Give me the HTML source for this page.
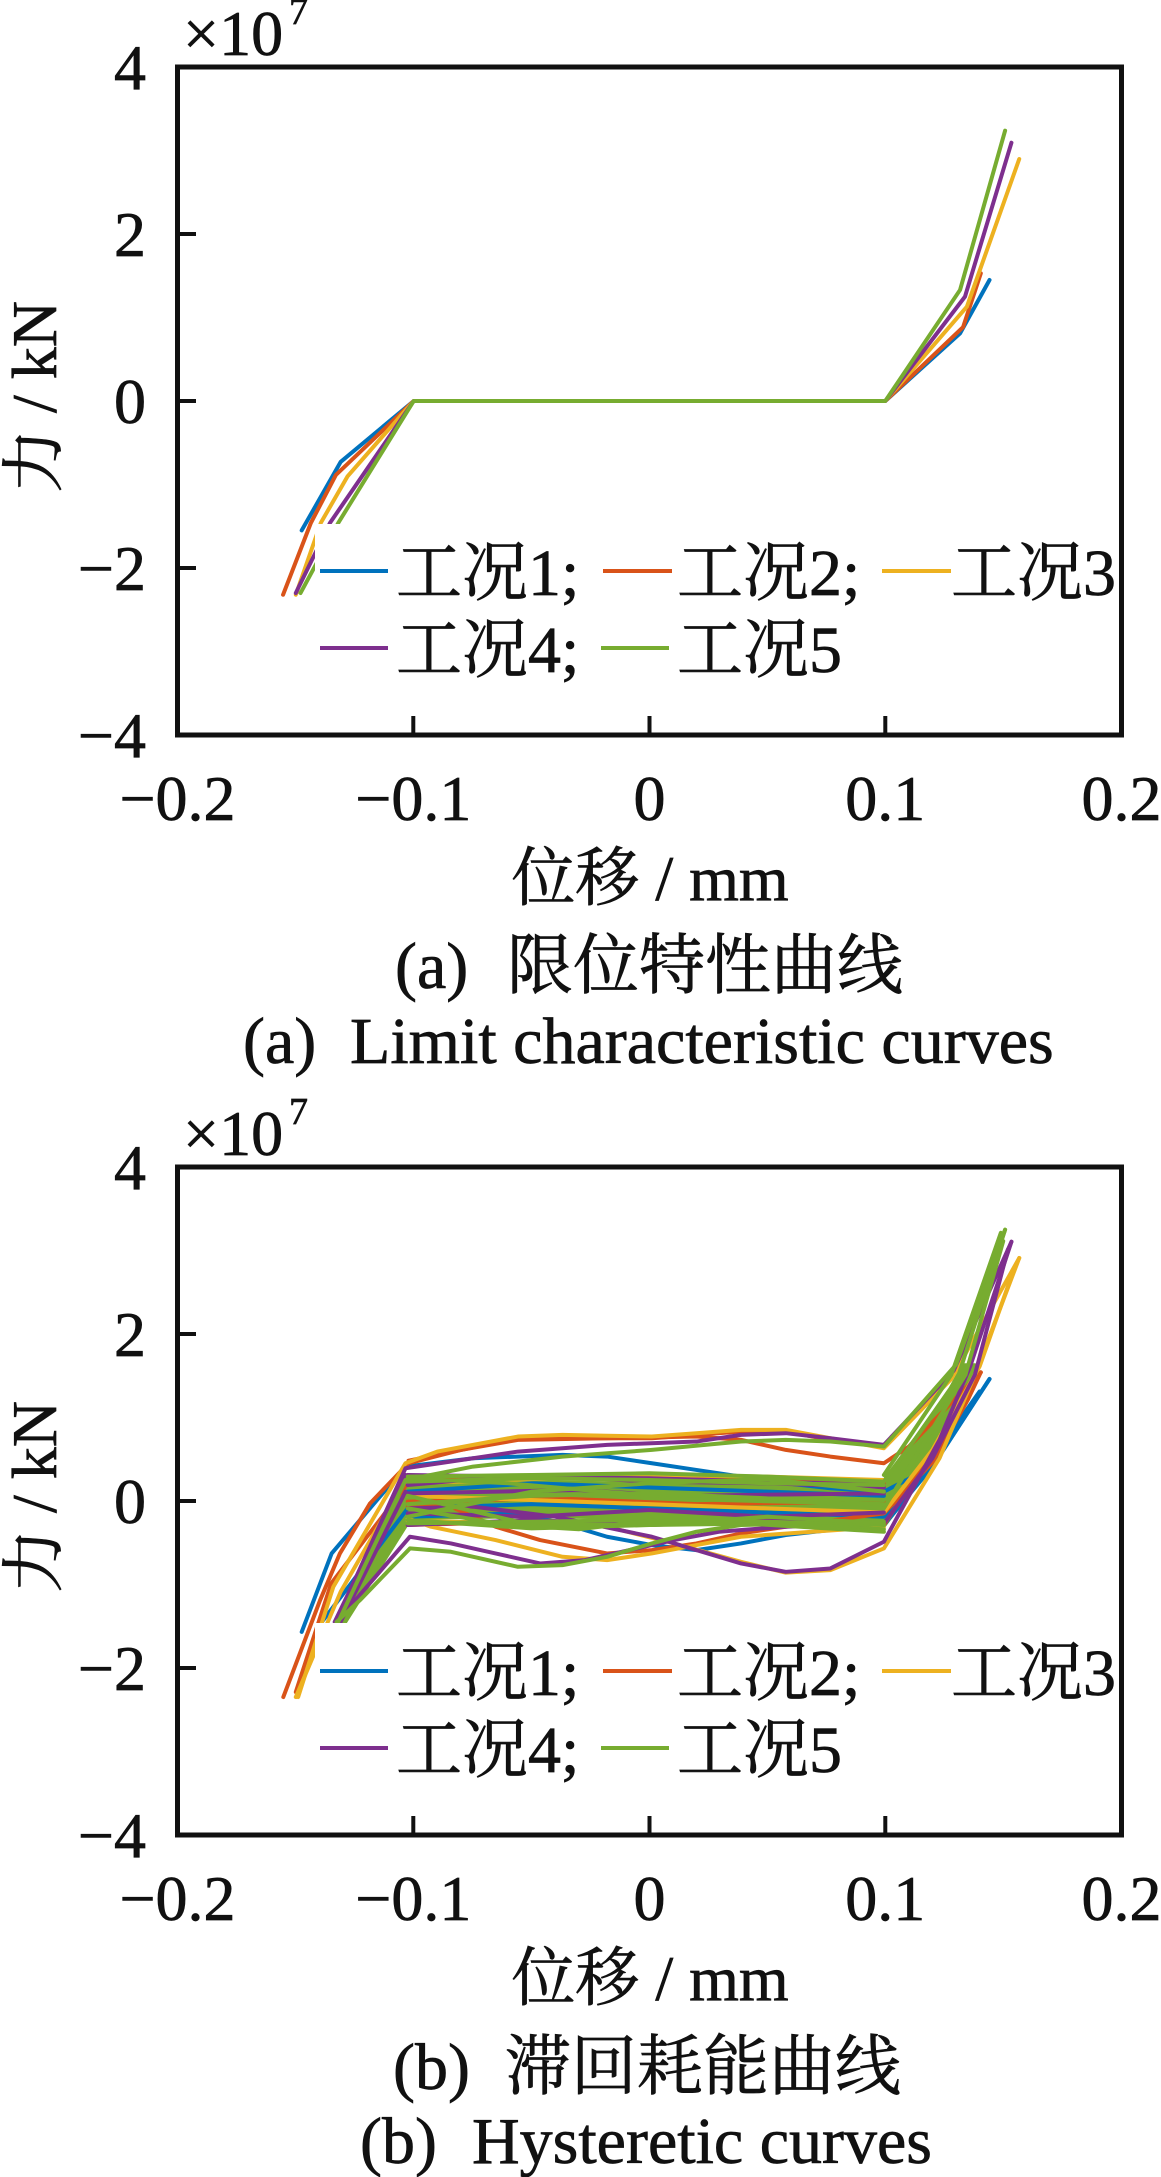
<!DOCTYPE html>
<html>
<head>
<meta charset="utf-8">
<style>
html,body{margin:0;padding:0;background:#fff;}
svg{display:block;}
text{font-family:"Liberation Serif","Noto Serif CJK SC",serif;fill:#111;stroke:#111;stroke-width:0.7;}
.c path{vector-effect:non-scaling-stroke;fill:none;stroke-width:4;stroke-linejoin:round;stroke-linecap:round;}
.c path.f{stroke-width:3;}
.b{stroke:#0072BD;} .o{stroke:#D95319;} .y{stroke:#EDB120;} .p{stroke:#7E2F8E;} .g{stroke:#77AC30;}
path.f{fill:#77AC30 !important;stroke:#77AC30;}
.ax{stroke:#111;stroke-width:5;fill:none;}
.tk{stroke:#111;stroke-width:4;}
.lg{stroke-width:4;}
</style>
</head>
<body>
<svg width="1161" height="2177" viewBox="0 0 1161 2177" xmlns="http://www.w3.org/2000/svg">
<rect x="0" y="0" width="1161" height="2177" fill="#fff"/>

<!-- ================= PLOT 1 ================= -->
<g class="c" transform="translate(649.5 401) scale(2358 -83.5)">
  <path class="b" d="M-0.1475,-1.55 L-0.131,-0.73 L-0.1,0 L0.1,0 L0.1317,0.81 L0.1442,1.449"/>
  <path class="o" d="M-0.1554,-2.32 L-0.1436,-1.46 L-0.133,-0.886 L-0.1,0 L0.1,0 L0.133,0.886 L0.1405,1.529"/>
  <path class="y" d="M-0.15,-2.32 L-0.1394,-1.46 L-0.128,-0.9 L-0.1,0 L0.1,0 L0.1346,1.13 L0.1568,2.898"/>
  <path class="p" d="M-0.15,-2.3 L-0.1355,-1.46 L-0.1,0 L0.1,0 L0.1338,1.25 L0.1535,3.093"/>
  <path class="g" d="M-0.148,-2.3 L-0.132,-1.46 L-0.1,0 L0.1,0 L0.1317,1.33 L0.1508,3.237"/>
</g>

<!-- legend 1 -->
<rect x="315" y="524" width="803" height="170" fill="#fff"/>
<line class="lg" x1="320" y1="571" x2="388" y2="571" stroke="#0072BD"/>
<text x="396" y="595" font-size="66">工况1;</text>
<line class="lg" x1="603" y1="571" x2="672" y2="571" stroke="#D95319"/>
<text x="677" y="595" font-size="66">工况2;</text>
<line class="lg" x1="882" y1="571" x2="951" y2="571" stroke="#EDB120"/>
<text x="951" y="595" font-size="66">工况3</text>
<line class="lg" x1="320" y1="648" x2="388" y2="648" stroke="#7E2F8E"/>
<text x="396" y="672" font-size="66">工况4;</text>
<line class="lg" x1="601" y1="648" x2="669" y2="648" stroke="#77AC30"/>
<text x="677" y="672" font-size="66">工况5</text>

<!-- axes 1 -->
<rect class="ax" x="177.5" y="67" width="944" height="668"/>
<line class="tk" x1="177.5" y1="234" x2="196" y2="234"/>
<line class="tk" x1="177.5" y1="401" x2="196" y2="401"/>
<line class="tk" x1="177.5" y1="568" x2="196" y2="568"/>
<line class="tk" x1="413.3" y1="735" x2="413.3" y2="716"/>
<line class="tk" x1="649.5" y1="735" x2="649.5" y2="716"/>
<line class="tk" x1="885.3" y1="735" x2="885.3" y2="716"/>

<g font-size="64" text-anchor="end">
  <text x="146" y="89">4</text>
  <text x="146" y="256">2</text>
  <text x="146" y="423">0</text>
  <text x="146" y="590">−2</text>
  <text x="146" y="757">−4</text>
</g>
<g font-size="64" text-anchor="middle">
  <text x="177.5" y="820">−0.2</text>
  <text x="413.3" y="820">−0.1</text>
  <text x="649.5" y="820">0</text>
  <text x="885.3" y="820">0.1</text>
  <text x="1121.5" y="820">0.2</text>
</g>
<text x="183" y="55" font-size="64">×10</text>
<text x="289" y="24" font-size="38">7</text>
<text transform="translate(56 397) rotate(-90)" text-anchor="middle" font-size="64">力 / kN</text>
<text x="650" y="900" text-anchor="middle" font-size="64">位移 / mm</text>
<text x="395" y="988" font-size="66">(a)</text>
<text x="507" y="988" font-size="66">限位特性曲线</text>
<text x="243" y="1063" font-size="66">(a)</text>
<text x="350" y="1063" font-size="66">Limit characteristic curves</text>

<!-- ================= PLOT 2 ================= -->
<g class="c" transform="translate(649.5 1500) scale(2358 -83.5)">
  <!-- green filled regions -->
  <path class="f" d="M-0.1035,0.28 L-0.1327,-1.47 L-0.129,-1.47 L-0.1025,-0.28 Z"/>
  <path class="f" d="M-0.1025,0.2 L-0.05,0.22 L0,0.2 L0.05,0.17 L0.0994,0.16 L0.0994,-0.24 L0.05,-0.22 L0,-0.22 L-0.05,-0.2 L-0.1025,-0.22 Z"/>
  <path class="f" d="M0.0994,0.24 L0.1126,0.74 L0.1275,1.34 L0.133,1.62 L0.138,1.62 L0.137,1.32 L0.1245,0.72 L0.1135,0.2 L0.0994,-0.32 Z"/>

  <!-- blue -->
  <path class="b" d="M-0.1475,-1.58 L-0.1348,-0.64 L-0.1035,0.4 L-0.0748,0.5 L-0.0369,0.54 L-0.018,0.52 L0.001,0.44 L0.0199,0.36 L0.0388,0.28 L0.0578,0.2 L0.0767,0.14 L0.0994,0.1 L0.12,0.4 L0.1442,1.449"/>
  <path class="b" d="M-0.1025,0.1 L-0.05,0.2 L0,0.15 L0.05,0.1 L0.0994,0.05"/>
  <path class="b" d="M-0.1025,-0.2 L-0.0558,-0.16 L-0.0369,-0.28 L-0.018,-0.44 L0.001,-0.54 L0.0199,-0.6 L0.0388,-0.52 L0.0578,-0.42 L0.0767,-0.36 L0.0994,-0.3 L0.12,0.4 L0.1442,1.449"/>
  <path class="b" d="M-0.14,-1.5 L-0.1025,-0.1 L-0.05,-0.05 L0,-0.1 L0.05,-0.15 L0.0994,-0.2 L0.115,0.3 L0.14,1.3"/>

  <!-- orange -->
  <path class="o" d="M-0.1553,-2.36 L-0.1397,-1.2 L-0.1313,-0.64 L-0.1185,-0.04 L-0.1022,0.44 L-0.08,0.6 L-0.0558,0.72 L-0.018,0.74 L0.0199,0.76 L0.0388,0.72 L0.0578,0.6 L0.0767,0.52 L0.0994,0.44 L0.11,0.64 L0.1405,1.529"/>
  <path class="o" d="M-0.1022,0.47 L-0.0558,0.74 L0.001,0.74 L0.0388,0.82 L0.0578,0.82 L0.0767,0.72 L0.0994,0.64"/>
  <path class="o" d="M-0.1025,-0.08 L-0.0842,-0.08 L-0.0653,-0.32 L-0.0464,-0.48 L-0.018,-0.64 L0.001,-0.6 L0.0199,-0.52 L0.0388,-0.4 L0.0578,-0.32 L0.0994,-0.16 L0.12,0.45 L0.135,1.2 L0.1405,1.529"/>
  <path class="o" d="M-0.1025,0.24 L-0.05,0.26 L0,0.28 L0.05,0.24 L0.0994,0.2"/>
  <path class="o" d="M-0.1025,-0.3 L-0.05,-0.26 L0,-0.28 L0.05,-0.24 L0.0994,-0.3 L0.118,0.5 L0.135,1.3"/>
  <path class="o" d="M-0.15,-2.3 L-0.135,-1.0 L-0.1025,0.2"/>
  <path class="o" d="M-0.1025,-0.02 L-0.04,0.02 L0.02,-0.05 L0.0994,-0.02"/>

  <!-- yellow -->
  <path class="y" d="M-0.149,-2.36 L-0.1341,-1.04 L-0.1035,0.44 L-0.09,0.58 L-0.0558,0.76 L-0.0369,0.78 L-0.018,0.77 L0.001,0.76 L0.0199,0.8 L0.0388,0.84 L0.0578,0.84 L0.0767,0.74 L0.0994,0.62 L0.128,1.45 L0.1568,2.898"/>
  <path class="y" d="M-0.1025,-0.22 L-0.0927,-0.32 L-0.0653,-0.48 L-0.0369,-0.68 L-0.018,-0.72 L0.001,-0.64 L0.0199,-0.54 L0.0388,-0.44 L0.0994,-0.32"/>
  <path class="y" d="M-0.1025,-0.25 L-0.05,-0.28 L-0.018,-0.32 L0.0104,-0.52 L0.0388,-0.74 L0.0578,-0.87 L0.0767,-0.84 L0.0994,-0.58 L0.123,0.5 L0.138,1.5 L0.1568,2.898"/>
  <path class="y" d="M-0.1025,0.2 L-0.05,0.25 L0,0.3 L0.05,0.28 L0.0994,0.24"/>
  <path class="y" d="M-0.1025,0.05 L-0.05,0.0 L0,-0.05 L0.05,-0.1 L0.0994,-0.15 L0.12,0.6 L0.14,1.6 L0.155,2.8"/>
  <path class="y" d="M-0.15,-2.36 L-0.131,-1.1 L-0.1025,0.3"/>

  <!-- purple -->
  <path class="p" d="M-0.14,-2.3 L-0.1327,-1.44 L-0.1035,0.38 L-0.0748,0.5 L-0.0558,0.58 L-0.018,0.66 L0.0199,0.7 L0.0388,0.78 L0.0578,0.8 L0.0767,0.74 L0.0994,0.66 L0.129,1.55 L0.1535,3.093"/>
  <path class="p" d="M-0.1327,-1.46 L-0.1016,-0.44 L-0.0842,-0.52 L-0.0653,-0.64 L-0.0464,-0.76 L-0.0274,-0.72 L-0.0085,-0.6 L0.0104,-0.48 L0.0294,-0.38 L0.0578,-0.32 L0.0994,-0.28"/>
  <path class="p" d="M-0.1025,-0.1 L-0.0748,-0.08 L-0.04,-0.2 L0.001,-0.44 L0.0199,-0.6 L0.0388,-0.76 L0.0578,-0.86 L0.0767,-0.82 L0.0994,-0.5 L0.123,0.72 L0.136,1.6 L0.1535,3.093"/>
  <path class="p" d="M-0.1025,0.3 L-0.05,0.28 L0,0.26 L0.05,0.22 L0.0994,0.18"/>
  <path class="p" d="M-0.1025,0.18 L-0.07,0.26 L-0.03,0.27 L0,0.22 L0.05,0.2 L0.0994,0.15"/>
  <path class="p" d="M-0.1025,-0.16 L-0.05,-0.2 L0,-0.12 L0.05,-0.2 L0.0994,-0.15"/>
  <path class="p" d="M-0.1025,-0.3 L-0.05,-0.24 L0,-0.3 L0.05,-0.25 L0.0994,-0.28 L0.12,0.5 L0.138,1.5 L0.152,3.0"/>
  <path class="p" d="M-0.1335,-1.46 L-0.1035,0.3"/>
  <path class="p" d="M-0.131,-1.46 L-0.1035,0.1"/>
  <path class="p" d="M-0.1025,0.08 L-0.03,0.12 L0.01,0.05 L0.0994,0.08"/>

  <!-- green lines -->
  <path class="g" d="M-0.1327,-1.46 L-0.1228,-1.2 L-0.1016,-0.58 L-0.0842,-0.62 L-0.0558,-0.8 L-0.0369,-0.78 L-0.018,-0.68 L0.001,-0.52 L0.0199,-0.38 L0.0388,-0.3 L0.0994,-0.26"/>
  <path class="g" d="M-0.132,-1.46 L-0.1035,0.24 L-0.0748,0.4 L-0.0369,0.52 L0.001,0.6 L0.0388,0.7 L0.0578,0.72 L0.0767,0.7 L0.0994,0.64 L0.13,1.62 L0.1508,3.237"/>
  <path class="g" d="M-0.1025,0.28 L-0.05,0.3 L0,0.32 L0.05,0.28 L0.0994,0.22 L0.13,1.4 L0.1508,3.237"/>
  <path class="g" d="M-0.1025,0.22 L-0.05,0.26 L0,0.24 L0.05,0.2 L0.0994,0.18"/>
  <path class="g" d="M-0.1025,-0.28 L-0.05,-0.26 L0,-0.24 L0.05,-0.26 L0.0994,-0.3"/>
  <path class="g" d="M-0.1025,-0.24 L-0.05,-0.34 L0,-0.3 L0.05,-0.28 L0.0994,-0.35"/>
  <path class="g" d="M-0.1025,0.05 L-0.05,-0.3 L0,-0.3 L0.05,-0.2 L0.0994,-0.28"/>
  <path class="g" d="M-0.1025,-0.2 L-0.05,0.1 L0,0.2 L0.05,0.25 L0.0994,0.1"/>
  <path class="g" d="M0.0994,-0.1 L0.134,1.5 L0.15,3.1"/>
  <path class="g" d="M-0.1025,-0.1 L-0.06,-0.3 L-0.03,-0.35 L0,-0.25 L0.04,-0.28 L0.0994,-0.38"/>
  <path class="g" d="M-0.1025,0.26 L-0.06,0.2 L-0.02,0.1 L0.03,0.0 L0.0994,-0.05"/>
  <path class="g" d="M-0.1025,-0.05 L-0.05,0.05 L0,0.08 L0.05,0.02 L0.0994,0.0"/>
  <path class="g" d="M0.0994,0.3 L0.128,1.5 L0.149,3.2"/>
</g>

<!-- legend 2 -->
<rect x="315" y="1623" width="803" height="170" fill="#fff"/>
<line class="lg" x1="320" y1="1671" x2="388" y2="1671" stroke="#0072BD"/>
<text x="396" y="1695" font-size="66">工况1;</text>
<line class="lg" x1="603" y1="1671" x2="672" y2="1671" stroke="#D95319"/>
<text x="677" y="1695" font-size="66">工况2;</text>
<line class="lg" x1="882" y1="1671" x2="951" y2="1671" stroke="#EDB120"/>
<text x="951" y="1695" font-size="66">工况3</text>
<line class="lg" x1="320" y1="1748" x2="388" y2="1748" stroke="#7E2F8E"/>
<text x="396" y="1772" font-size="66">工况4;</text>
<line class="lg" x1="601" y1="1748" x2="669" y2="1748" stroke="#77AC30"/>
<text x="677" y="1772" font-size="66">工况5</text>

<!-- axes 2 -->
<rect class="ax" x="177.5" y="1167" width="944" height="668"/>
<line class="tk" x1="177.5" y1="1334" x2="196" y2="1334"/>
<line class="tk" x1="177.5" y1="1501" x2="196" y2="1501"/>
<line class="tk" x1="177.5" y1="1668" x2="196" y2="1668"/>
<line class="tk" x1="413.3" y1="1835" x2="413.3" y2="1816"/>
<line class="tk" x1="649.5" y1="1835" x2="649.5" y2="1816"/>
<line class="tk" x1="885.3" y1="1835" x2="885.3" y2="1816"/>

<g font-size="64" text-anchor="end">
  <text x="146" y="1189">4</text>
  <text x="146" y="1356">2</text>
  <text x="146" y="1523">0</text>
  <text x="146" y="1690">−2</text>
  <text x="146" y="1857">−4</text>
</g>
<g font-size="64" text-anchor="middle">
  <text x="177.5" y="1920">−0.2</text>
  <text x="413.3" y="1920">−0.1</text>
  <text x="649.5" y="1920">0</text>
  <text x="885.3" y="1920">0.1</text>
  <text x="1121.5" y="1920">0.2</text>
</g>
<text x="183" y="1155" font-size="64">×10</text>
<text x="289" y="1124" font-size="38">7</text>
<text transform="translate(56 1497) rotate(-90)" text-anchor="middle" font-size="64">力 / kN</text>
<text x="650" y="2000" text-anchor="middle" font-size="64">位移 / mm</text>
<text x="393" y="2089" font-size="66">(b)</text>
<text x="505" y="2089" font-size="66">滞回耗能曲线</text>
<text x="360" y="2163" font-size="66">(b)</text>
<text x="472" y="2163" font-size="66">Hysteretic curves</text>
</svg>
</body>
</html>
